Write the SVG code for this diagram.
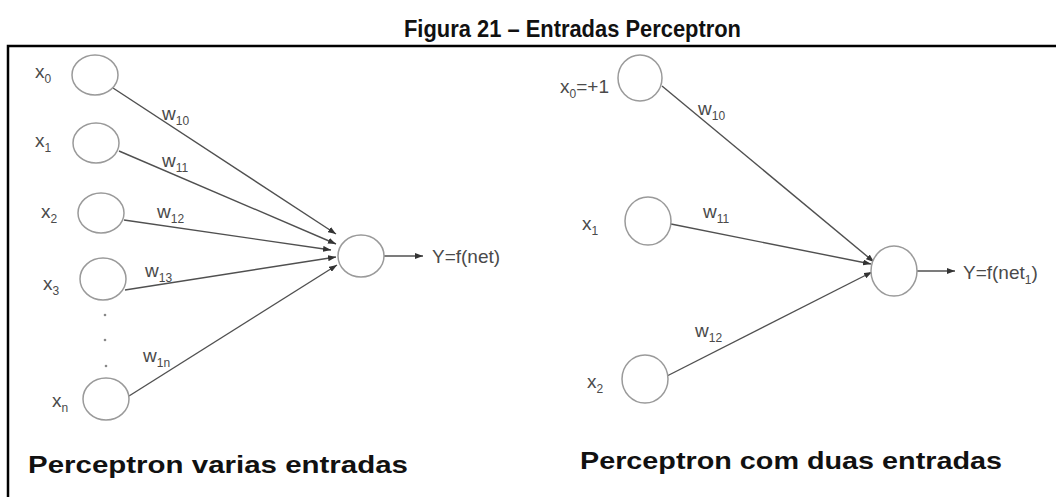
<svg xmlns="http://www.w3.org/2000/svg" width="1056" height="497" viewBox="0 0 1056 497">
<style>
.node{fill:#fff;stroke:#9a9a9a;stroke-width:1.5}
.edge{stroke:#505050;stroke-width:1.4;fill:none}
.lbl{font-family:"Liberation Sans",Arial,sans-serif;font-size:19px;fill:#4a4a4a}
.sub{font-size:12px}
.cap{font-family:"Liberation Sans",Arial,sans-serif;font-weight:bold;fill:#111}
.frame{stroke:#000;stroke-width:2.5;fill:none}
</style>
<defs>
<marker id="arr" markerWidth="8" markerHeight="6" refX="8" refY="3" orient="auto" markerUnits="userSpaceOnUse">
<path d="M0,0 L8,3 L0,6 Z" fill="#333"/>
</marker>
</defs>
<rect width="1056" height="497" fill="#fff"/>
<text class="cap" x="404" y="37" font-size="24" textLength="337" lengthAdjust="spacingAndGlyphs">Figura 21 – Entradas Perceptron</text>
<path class="frame" d="M8,497 V46 H1056"/>

<g id="connectors">
<line class="edge" x1="113" y1="88" x2="336" y2="234" marker-end="url(#arr)"/>
<line class="edge" x1="119" y1="151" x2="336" y2="244" marker-end="url(#arr)"/>
<line class="edge" x1="124" y1="220" x2="331" y2="250" marker-end="url(#arr)"/>
<line class="edge" x1="125" y1="290" x2="336" y2="257" marker-end="url(#arr)"/>
<line class="edge" x1="129" y1="396" x2="337" y2="265" marker-end="url(#arr)"/>
<line class="edge" x1="384" y1="256" x2="423" y2="256" marker-end="url(#arr)"/>
<line class="edge" x1="662" y1="86" x2="874" y2="262" marker-end="url(#arr)"/>
<line class="edge" x1="671" y1="224" x2="871" y2="264" marker-end="url(#arr)"/>
<line class="edge" x1="667" y1="376" x2="872" y2="272" marker-end="url(#arr)"/>
<line class="edge" x1="917" y1="271" x2="955" y2="271" marker-end="url(#arr)"/>
</g>

<g id="left-x0"><ellipse class="node" cx="95" cy="75" rx="23" ry="20"/><text class="lbl" x="35" y="78">x<tspan class="sub" dy="5">0</tspan></text></g>
<g id="left-x1"><ellipse class="node" cx="96" cy="143" rx="23" ry="20"/><text class="lbl" x="35" y="147">x<tspan class="sub" dy="5">1</tspan></text></g>
<g id="left-x2"><ellipse class="node" cx="101" cy="213" rx="23" ry="20"/><text class="lbl" x="41" y="218">x<tspan class="sub" dy="5">2</tspan></text></g>
<g id="left-x3"><ellipse class="node" cx="103" cy="279" rx="23" ry="21"/><text class="lbl" x="43" y="290">x<tspan class="sub" dy="5">3</tspan></text></g>
<g id="left-dots" fill="#888"><circle cx="105" cy="315" r="1.3"/><circle cx="105" cy="340" r="1.3"/><circle cx="106" cy="366" r="1.3"/></g>
<g id="left-xn"><ellipse class="node" cx="106" cy="399" rx="23" ry="21"/><text class="lbl" x="52" y="407">x<tspan class="sub" dy="5">n</tspan></text></g>
<g id="left-sum"><ellipse class="node" cx="361" cy="256" rx="23" ry="21"/></g>

<g id="left-weights" class="lbl" font-size="18">
<text x="162" y="120">w<tspan class="sub" dy="5">10</tspan></text>
<text x="162" y="167">w<tspan class="sub" dy="5">11</tspan></text>
<text x="157" y="218">w<tspan class="sub" dy="5">12</tspan></text>
<text x="145" y="277">w<tspan class="sub" dy="5">13</tspan></text>
<text x="143" y="362">w<tspan class="sub" dy="5">1n</tspan></text>
</g>
<text id="left-out" class="lbl" x="432" y="263" font-size="20">Y=f(net)</text>

<g id="right-x0"><ellipse class="node" cx="640" cy="78" rx="22" ry="23"/><text class="lbl" x="560" y="93">x<tspan class="sub" dy="5">0</tspan><tspan dy="-5">=+1</tspan></text></g>
<g id="right-x1"><ellipse class="node" cx="648" cy="221" rx="23" ry="24"/><text class="lbl" x="582" y="230">x<tspan class="sub" dy="5">1</tspan></text></g>
<g id="right-x2"><ellipse class="node" cx="645" cy="379" rx="23" ry="24"/><text class="lbl" x="587" y="388">x<tspan class="sub" dy="5">2</tspan></text></g>
<g id="right-sum"><ellipse class="node" cx="894" cy="271" rx="23" ry="25"/></g>

<g id="right-weights" class="lbl" font-size="18">
<text x="698" y="115">w<tspan class="sub" dy="5">10</tspan></text>
<text x="703" y="218">w<tspan class="sub" dy="5">11</tspan></text>
<text x="695" y="337">w<tspan class="sub" dy="5">12</tspan></text>
</g>
<text id="right-out" class="lbl" x="963" y="279" font-size="20">Y=f(net<tspan class="sub" dy="5">1</tspan><tspan dy="-5">)</tspan></text>

<text class="cap" x="28" y="473" font-size="24" textLength="380" lengthAdjust="spacingAndGlyphs">Perceptron varias entradas</text>
<text class="cap" x="580" y="469" font-size="24" textLength="422" lengthAdjust="spacingAndGlyphs">Perceptron com duas entradas</text>
</svg>
